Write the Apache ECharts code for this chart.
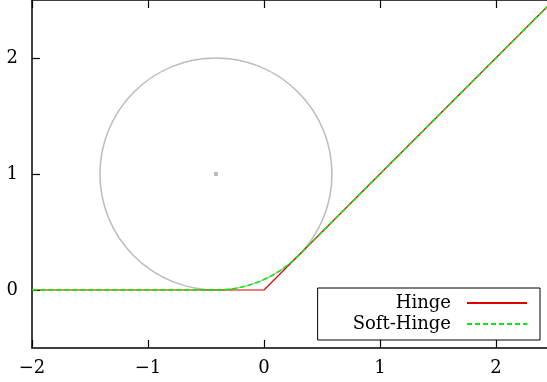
<!DOCTYPE html>
<html>
<head>
<meta charset="utf-8">
<script src="https://cdn.jsdelivr.net/npm/echarts@6/dist/echarts.min.js"></script>
<style>
  html, body { margin: 0; padding: 0; background: #fff; }
  #chart { width: 547px; height: 382px; }
</style>
</head>
<body>
<div id="chart"></div>
<script>
// Axis ranges and tick positions
const xRange = [-2, 2.44];
const yRange = [-0.5, 2.5];
const xTicks = [-2, -1, 0, 1, 2];
const yTicks = [0, 1, 2];

// Hinge: max(0, x)
const hingeX = [-2, 0, 2.5];
const hingeY = [0, 0, 2.5];

// Soft-Hinge: flat, rounded corner, then the identity line
const softX = [-2, -0.414, -0.35, -0.3, -0.25, -0.2, -0.15, -0.1, -0.05, 0, 0.05, 0.1, 0.15, 0.2, 0.25, 0.293, 2.5];
const softY = [0, 0, 0.002, 0.0065, 0.0135, 0.0232, 0.0355, 0.0506, 0.0686, 0.0897, 0.1142, 0.1422, 0.1742, 0.2107, 0.2523, 0.2928, 2.5];

// Rounding circle: centre and radius
const circleCenter = [-0.414, 1];
const circleRadius = 1;

const zip = (xs, ys) => xs.map((x, i) => [x, ys[i]]);
const fmt = v => String(v).replace('-', '\u2212');
const font = '"DejaVu Serif", "Liberation Serif", serif';

const axisLine = { show: true, onZero: false, lineStyle: { color: '#000', width: 1.5 } };
const tick = vals => ({ show: true, inside: true, length: 8, customValues: vals, lineStyle: { color: '#000', width: 1.2 } });

const chart = echarts.init(document.getElementById('chart'));
chart.setOption({
  animation: false,
  backgroundColor: '#fff',
  grid: { left: 32, right: 0, top: 0, bottom: 34, containLabel: false },
  xAxis: [
    { type: 'value', min: xRange[0], max: xRange[1], position: 'bottom',
      axisLine, axisTick: tick(xTicks), splitLine: { show: false },
      axisLabel: { customValues: xTicks, formatter: fmt, margin: 11, color: '#000', fontSize: 18, fontFamily: font } },
    { type: 'value', min: xRange[0], max: xRange[1], position: 'top',
      axisLine, axisTick: tick(xTicks), splitLine: { show: false }, axisLabel: { show: false } }
  ],
  yAxis: [
    { type: 'value', min: yRange[0], max: yRange[1], position: 'left',
      axisLine, axisTick: tick(yTicks), splitLine: { show: false },
      axisLabel: { customValues: yTicks, formatter: fmt, margin: 14, color: '#000', fontSize: 18, fontFamily: font } },
    { type: 'value', min: yRange[0], max: yRange[1], position: 'right',
      axisLine: { show: false }, axisTick: { show: false }, splitLine: { show: false }, axisLabel: { show: false } }
  ],
  legend: {
    right: 7, bottom: 42,
    orient: 'vertical', align: 'right',
    data: ['Hinge', 'Soft-Hinge'],
    itemWidth: 60, itemHeight: 14, itemGap: 3,
    itemStyle: { opacity: 0 },
    padding: [6, 12, 7, 35],
    borderColor: '#000', borderWidth: 1, backgroundColor: '#fff',
    textStyle: { color: '#000', fontSize: 18, lineHeight: 18, fontFamily: font, padding: [0, 11, 0, 0] }
  },
  series: [
    {
      type: 'custom', name: 'circle', silent: true, z: 1,
      data: [[circleCenter[0], circleCenter[1], circleRadius]],
      renderItem: (params, api) => {
        const c = api.coord([api.value(0), api.value(1)]);
        const r = api.size([api.value(2), api.value(2)])[0];
        return {
          type: 'group',
          children: [
            { type: 'circle', shape: { cx: c[0], cy: c[1], r: r },
              style: { fill: 'none', stroke: '#bbbbbb', lineWidth: 1.5 } },
            { type: 'rect', shape: { x: c[0] - 2, y: c[1] - 2, width: 4, height: 4 },
              style: { fill: '#bbbbbb' } }
          ]
        };
      }
    },
    {
      type: 'line', name: 'Hinge', z: 2,
      data: zip(hingeX, hingeY), showSymbol: false, symbol: 'none',
      lineStyle: { color: '#e00000', width: 1.2 }, itemStyle: { color: '#e00000' }
    },
    {
      type: 'line', name: 'Soft-Hinge', z: 3,
      data: zip(softX, softY), showSymbol: false, symbol: 'none',
      lineStyle: { color: '#00f000', width: 1.5, type: [5, 3] }, itemStyle: { color: '#00f000' }
    }
  ]
});
</script>
</body>
</html>
